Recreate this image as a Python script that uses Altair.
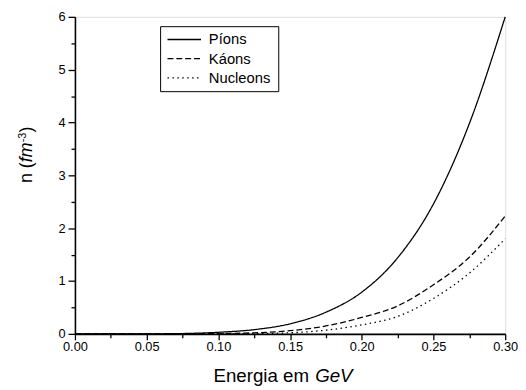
import altair as alt
import pandas as pd

# ---- data ----
energy = [0.0, 0.025, 0.05, 0.075, 0.10, 0.125, 0.15, 0.175, 0.20, 0.225, 0.25, 0.275, 0.30]
pions = [0.0, 0.0, 0.0005, 0.006, 0.03, 0.08, 0.19, 0.41, 0.79, 1.44, 2.46, 3.98, 6.0]
kaons = [0.0, 0.0, 0.0, 0.001, 0.005, 0.02, 0.06, 0.15, 0.31, 0.53, 0.93, 1.45, 2.23]
nucleons = [0.0, 0.0, 0.0, 0.0, 0.001, 0.005, 0.02, 0.07, 0.17, 0.33, 0.67, 1.15, 1.8]
names = ["Píons", "Káons", "Nucleons"]
dashes = [[1, 0], [6, 3], [1.5, 3.5]]
x_ticks = [round(i * 0.025, 3) for i in range(13)]
y_ticks = [i * 0.5 for i in range(13)]

rows = []
for name, vals in zip(names, [pions, kaons, nucleons]):
    for e, v in zip(energy, vals):
        rows.append({"E": e, "n": v, "serie": name})
df = pd.DataFrame(rows)

FONT = "Liberation Sans"
W, H = 437, 322
TOP = 6

x_axis = alt.Axis(
    values=x_ticks,
    title=None,
    labelExpr="round(datum.value*40) % 2 === 0 ? format(datum.value, '.2f') : ''",
    tickSize={"condition": {"test": "round(datum.value*40) % 2 === 0", "value": 6}, "value": 4},
    labelFlush=False,
    labelOverlap=False,
    labelPadding=1,
    labelFontSize=13,
    labelFont=FONT,
    labelColor="black",
    domainColor="black",
    tickColor="black",
    domainWidth=1.6,
    tickWidth=1.3,
    grid=False,
)
y_axis = alt.Axis(
    values=y_ticks,
    title=None,
    labelExpr="datum.value % 1 === 0 ? format(datum.value, 'd') : ''",
    tickSize={"condition": {"test": "datum.value % 1 === 0", "value": 7}, "value": 4},
    labelOverlap=False,
    labelPadding=3,
    labelFontSize=13,
    labelFont=FONT,
    labelColor="black",
    domainColor="black",
    tickColor="black",
    domainWidth=1.6,
    tickWidth=1.3,
    grid=False,
)

lines = alt.Chart(df).mark_line(interpolate="monotone", color="black", strokeWidth=1.3).encode(
    x=alt.X("E:Q", scale=alt.Scale(domain=[0, 0.3], nice=False, zero=False), axis=x_axis),
    y=alt.Y("n:Q", scale=alt.Scale(domain=[0, 6], nice=False), axis=y_axis),
    strokeDash=alt.StrokeDash("serie:N", scale=alt.Scale(domain=names, range=dashes), legend=None),
    detail="serie:N",
)

one = pd.DataFrame({"k": [0]})

def txt(text, x, y, size, angle=0, style="normal", align="left", baseline="alphabetic"):
    return alt.Chart(one).mark_text(
        text=text, font=FONT, fontSize=size, fontStyle=style, angle=angle,
        align=align, baseline=baseline, color="black",
    ).encode(x=alt.value(x), y=alt.value(y))

# axis titles (rich text pieces), positions relative to the plot's top-left
titles = [
    txt("Energia em", 140.7, 371, 19),
    txt("GeV", 244, 371, 19, style="italic"),
    txt("n (", -44, 168.7, 18, angle=270),
    txt("fm", -44, 147.7, 18, angle=270, style="italic"),
    txt("-3", -50, 127.5, 11, angle=270),
    txt(")", -44, 117.5, 18, angle=270),
]

# legend box
box = alt.Chart(one).mark_rect(fill="white", stroke="black", strokeWidth=1).encode(
    x=alt.value(87), x2=alt.value(207), y=alt.value(10), y2=alt.value(76)
)
legend_layers = [box]
row_y = [23, 42.5, 62]
for name, d, ry in zip(names, dashes, row_y):
    legend_layers.append(
        alt.Chart(one).mark_rule(color="black", strokeWidth=1.3, strokeDash=d).encode(
            x=alt.value(94), x2=alt.value(128), y=alt.value(ry)
        )
    )
    legend_layers.append(txt(name, 136, ry, 15, baseline="middle"))

chart = alt.layer(lines, *titles, *legend_layers).properties(
    width=W,
    height=H,
    autosize=alt.AutoSizeParams(type="none"),
    padding={"left": 68, "top": TOP, "right": 13, "bottom": 52},
).configure_view(stroke=None).configure(background="white")

chart.save("out.html", embed_options={"renderer": "svg", "actions": False})
